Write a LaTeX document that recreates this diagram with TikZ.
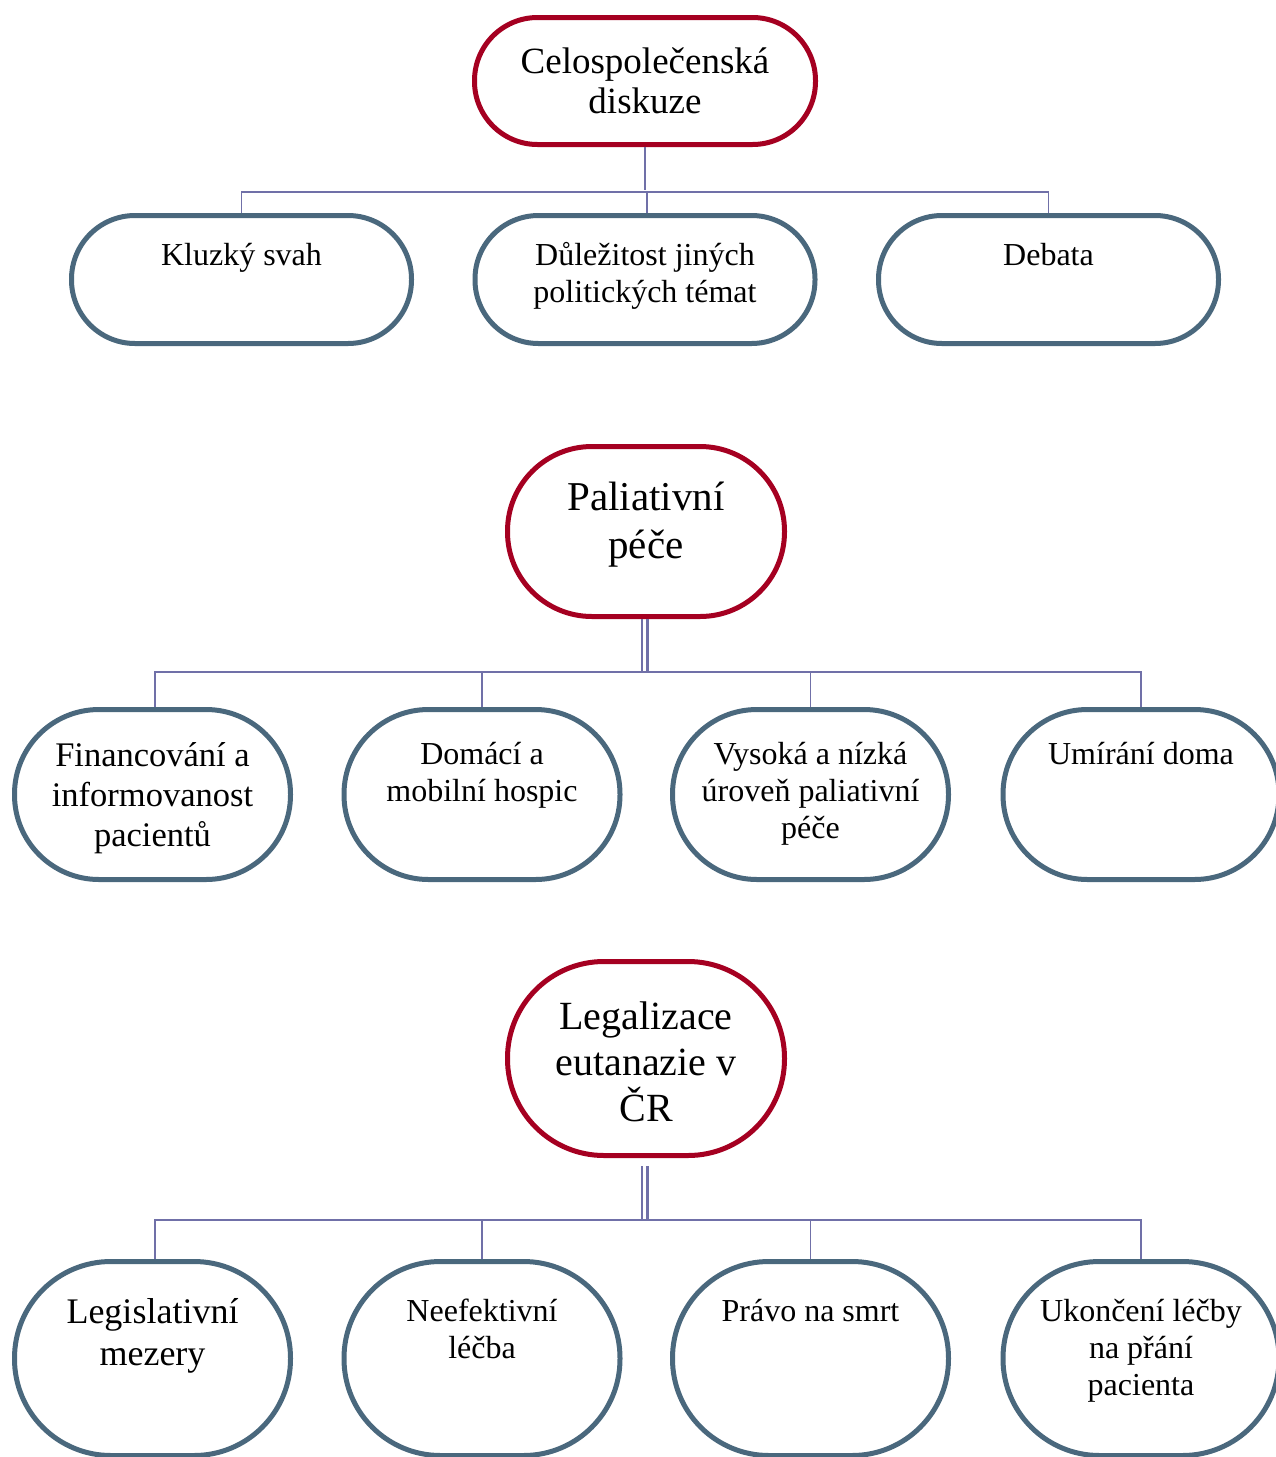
\documentclass[tikz,border=0pt]{standalone}
\usepackage{fontspec}
\setmainfont{Liberation Serif}
\definecolor{redb}{RGB}{165,0,33}
\definecolor{blueb}{RGB}{74,104,125}
\definecolor{connc}{RGB}{112,112,168}
\newcommand\fsz[2]{\fontsize{#1}{#2}\selectfont}
\begin{document}
\begin{tikzpicture}[x=1pt,y=-1pt,
  topb/.style={draw=redb, line width=5pt, fill=white, inner sep=0pt, align=center},
  chb/.style={draw=blueb, line width=5pt, fill=white, inner sep=0pt},
  lbl/.style={anchor=north, align=center, inner sep=0pt},
  clbl/.style={align=center, inner sep=0pt},
  conn/.style={draw=connc, line width=1.6pt},
  connk/.style={draw=connc, line width=2.8pt}]
\useasboundingbox (0,0) rectangle (1275,1457);

% ---------- Group 1 ----------
\node[topb, minimum width=341pt, minimum height=127pt, rounded corners=63pt, font=\fsz{37}{40}] (t1) at (645,81) {Celospolečenská\\diskuze};
\node[chb, minimum width=340pt, minimum height=128pt, rounded corners=63.5pt] (c11) at (241.5,279.5) {};
\node[chb, minimum width=340pt, minimum height=128pt, rounded corners=63.5pt] (c12) at (645,279.5) {};
\node[chb, minimum width=340pt, minimum height=128pt, rounded corners=63.5pt] (c13) at (1048.5,279.5) {};
\node[lbl, font=\fsz{32}{37}] (l11) at ([yshift=-23.2pt]c11.north) {\rule{0pt}{0.9em}Kluzký svah};
\node[lbl, font=\fsz{32}{37}] (l12) at ([yshift=-23.2pt]c12.north) {\rule{0pt}{0.9em}Důležitost jiných\\politických témat};
\node[lbl, font=\fsz{32}{37}] (l13) at ([yshift=-23.2pt]c13.north) {\rule{0pt}{0.9em}Debata};
\coordinate (j1) at (645,192);
\draw[connk] (t1.south) -- ([yshift=2pt]j1);
\draw[conn] (c11.north) |- (j1) -| (c13.north);
\draw[conn] ([xshift=2pt]j1) -- ([xshift=2pt]c12.north);

% ---------- Group 2 ----------
\node[topb, minimum width=277pt, minimum height=170pt, rounded corners=84.5pt] (t2) at (646,531.5) {};
\node[clbl, font=\fsz{41}{48}] (l2) at ([yshift=7pt]t2.center) {Paliativní\\péče};
\node[chb, minimum width=276pt, minimum height=170pt, rounded corners=84.5pt] (c21) at (152.5,794.5) {};
\node[chb, minimum width=276pt, minimum height=170pt, rounded corners=84.5pt] (c22) at (482,794.5) {};
\node[chb, minimum width=276pt, minimum height=170pt, rounded corners=84.5pt] (c23) at (810.5,794.5) {};
\node[chb, minimum width=276pt, minimum height=170pt, rounded corners=84.5pt] (c24) at (1141,794.5) {};
\node[lbl, font=\fsz{34.5}{40}] (l21) at ([yshift=-28pt]c21.north) {\rule{0pt}{0.9em}Financování a\\informovanost\\pacientů};
\node[lbl, font=\fsz{32}{37}] (l22) at ([yshift=-28.2pt]c22.north) {\rule{0pt}{0.9em}Domácí a\\mobilní hospic};
\node[lbl, font=\fsz{32}{37}] (l23) at ([yshift=-28.2pt]c23.north) {\rule{0pt}{0.9em}Vysoká a nízká\\úroveň paliativní\\péče};
\node[lbl, font=\fsz{32}{37}] (l24) at ([yshift=-28.2pt]c24.north) {\rule{0pt}{0.9em}Umírání doma};
\coordinate (j2) at (646,672);
\draw[conn] ([xshift=-4pt]t2.south) -- ([xshift=-4pt]j2);
\draw[connk] ([xshift=1.5pt]t2.south) -- ([xshift=1.5pt]j2);
\draw[conn] ([xshift=2.5pt]c21.north) |- (j2) -| (c24.north);
\draw[conn] (c22.north) |- (j2);
\draw[conn] (c23.north) |- (j2);

% ---------- Group 3 ----------
\node[topb, minimum width=277pt, minimum height=194pt, rounded corners=96.5pt] (t3) at (646,1058.5) {};
\node[clbl, font=\fsz{40}{46}] (l3) at ([yshift=-3pt]t3.center) {Legalizace\\eutanazie v\\ČR};
\node[chb, minimum width=276pt, minimum height=194pt, rounded corners=96.5pt] (c31) at (152.5,1358.5) {};
\node[chb, minimum width=276pt, minimum height=194pt, rounded corners=96.5pt] (c32) at (482,1358.5) {};
\node[chb, minimum width=276pt, minimum height=194pt, rounded corners=96.5pt] (c33) at (810.5,1358.5) {};
\node[chb, minimum width=276pt, minimum height=194pt, rounded corners=96.5pt] (c34) at (1141,1358.5) {};
\node[lbl, font=\fsz{36}{42}] (l31) at ([yshift=-31.6pt]c31.north) {\rule{0pt}{0.9em}Legislativní\\mezery};
\node[lbl, font=\fsz{32}{37}] (l32) at ([yshift=-33.2pt]c32.north) {\rule{0pt}{0.9em}Neefektivní\\léčba};
\node[lbl, font=\fsz{32}{37}] (l33) at ([yshift=-33.2pt]c33.north) {\rule{0pt}{0.9em}Právo na smrt};
\node[lbl, font=\fsz{32}{37}] (l34) at ([yshift=-33.2pt]c34.north) {\rule{0pt}{0.9em}Ukončení léčby\\na přání\\pacienta};
\coordinate (j3) at (646,1220);
\draw[conn] ([xshift=-4pt,yshift=-8pt]t3.south) -- ([xshift=-4pt]j3);
\draw[connk] ([xshift=1.5pt,yshift=-8pt]t3.south) -- ([xshift=1.5pt]j3);
\draw[conn] ([xshift=2.5pt]c31.north) |- (j3) -| (c34.north);
\draw[conn] (c32.north) |- (j3);
\draw[conn] (c33.north) |- (j3);
\end{tikzpicture}
\end{document}
